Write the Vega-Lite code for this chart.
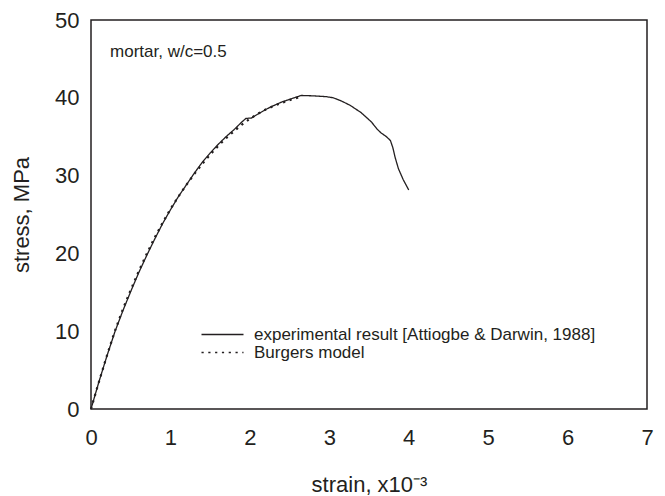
{
  "$schema": "https://vega.github.io/schema/vega-lite/v6.json",
  "width": 556,
  "height": 389,
  "autosize": {"type": "none"},
  "padding": {"left": 91, "top": 20, "right": 18, "bottom": 87},
  "background": "white",
  "datasets": {
    "curves": [
      {"series": "experimental result [Attiogbe & Darwin, 1988]", "strain": 0, "stress": 0},
      {"series": "experimental result [Attiogbe & Darwin, 1988]", "strain": 0.05, "stress": 1.75},
      {"series": "experimental result [Attiogbe & Darwin, 1988]", "strain": 0.1, "stress": 3.5},
      {"series": "experimental result [Attiogbe & Darwin, 1988]", "strain": 0.2, "stress": 6.8},
      {"series": "experimental result [Attiogbe & Darwin, 1988]", "strain": 0.3, "stress": 9.9},
      {"series": "experimental result [Attiogbe & Darwin, 1988]", "strain": 0.4, "stress": 12.6},
      {"series": "experimental result [Attiogbe & Darwin, 1988]", "strain": 0.5, "stress": 15.1},
      {"series": "experimental result [Attiogbe & Darwin, 1988]", "strain": 0.6, "stress": 17.5},
      {"series": "experimental result [Attiogbe & Darwin, 1988]", "strain": 0.7, "stress": 19.7},
      {"series": "experimental result [Attiogbe & Darwin, 1988]", "strain": 0.8, "stress": 21.8},
      {"series": "experimental result [Attiogbe & Darwin, 1988]", "strain": 0.9, "stress": 23.8},
      {"series": "experimental result [Attiogbe & Darwin, 1988]", "strain": 1.0, "stress": 25.6},
      {"series": "experimental result [Attiogbe & Darwin, 1988]", "strain": 1.1, "stress": 27.3},
      {"series": "experimental result [Attiogbe & Darwin, 1988]", "strain": 1.2, "stress": 28.8},
      {"series": "experimental result [Attiogbe & Darwin, 1988]", "strain": 1.3, "stress": 30.3},
      {"series": "experimental result [Attiogbe & Darwin, 1988]", "strain": 1.4, "stress": 31.7},
      {"series": "experimental result [Attiogbe & Darwin, 1988]", "strain": 1.5, "stress": 32.9},
      {"series": "experimental result [Attiogbe & Darwin, 1988]", "strain": 1.6, "stress": 34.0},
      {"series": "experimental result [Attiogbe & Darwin, 1988]", "strain": 1.7, "stress": 35.0},
      {"series": "experimental result [Attiogbe & Darwin, 1988]", "strain": 1.8, "stress": 35.9},
      {"series": "experimental result [Attiogbe & Darwin, 1988]", "strain": 1.9, "stress": 36.9},
      {"series": "experimental result [Attiogbe & Darwin, 1988]", "strain": 1.95, "stress": 37.35},
      {"series": "experimental result [Attiogbe & Darwin, 1988]", "strain": 2.02, "stress": 37.4},
      {"series": "experimental result [Attiogbe & Darwin, 1988]", "strain": 2.1, "stress": 37.9},
      {"series": "experimental result [Attiogbe & Darwin, 1988]", "strain": 2.2, "stress": 38.5},
      {"series": "experimental result [Attiogbe & Darwin, 1988]", "strain": 2.3, "stress": 39.0},
      {"series": "experimental result [Attiogbe & Darwin, 1988]", "strain": 2.4, "stress": 39.45},
      {"series": "experimental result [Attiogbe & Darwin, 1988]", "strain": 2.5, "stress": 39.8},
      {"series": "experimental result [Attiogbe & Darwin, 1988]", "strain": 2.6, "stress": 40.15},
      {"series": "experimental result [Attiogbe & Darwin, 1988]", "strain": 2.65, "stress": 40.3},
      {"series": "experimental result [Attiogbe & Darwin, 1988]", "strain": 2.8, "stress": 40.25},
      {"series": "experimental result [Attiogbe & Darwin, 1988]", "strain": 2.96, "stress": 40.15},
      {"series": "experimental result [Attiogbe & Darwin, 1988]", "strain": 3.05, "stress": 40.0},
      {"series": "experimental result [Attiogbe & Darwin, 1988]", "strain": 3.15, "stress": 39.6},
      {"series": "experimental result [Attiogbe & Darwin, 1988]", "strain": 3.26, "stress": 39.05},
      {"series": "experimental result [Attiogbe & Darwin, 1988]", "strain": 3.4, "stress": 38.1},
      {"series": "experimental result [Attiogbe & Darwin, 1988]", "strain": 3.53, "stress": 36.9},
      {"series": "experimental result [Attiogbe & Darwin, 1988]", "strain": 3.6, "stress": 36.0},
      {"series": "experimental result [Attiogbe & Darwin, 1988]", "strain": 3.65, "stress": 35.5},
      {"series": "experimental result [Attiogbe & Darwin, 1988]", "strain": 3.72, "stress": 35.0},
      {"series": "experimental result [Attiogbe & Darwin, 1988]", "strain": 3.77, "stress": 34.5},
      {"series": "experimental result [Attiogbe & Darwin, 1988]", "strain": 3.8, "stress": 33.6},
      {"series": "experimental result [Attiogbe & Darwin, 1988]", "strain": 3.83, "stress": 32.3},
      {"series": "experimental result [Attiogbe & Darwin, 1988]", "strain": 3.87, "stress": 30.9},
      {"series": "experimental result [Attiogbe & Darwin, 1988]", "strain": 3.93, "stress": 29.5},
      {"series": "experimental result [Attiogbe & Darwin, 1988]", "strain": 4.0, "stress": 28.15},
      {"series": "Burgers model", "strain": 0, "stress": 0},
      {"series": "Burgers model", "strain": 0.05, "stress": 1.75},
      {"series": "Burgers model", "strain": 0.1, "stress": 3.5},
      {"series": "Burgers model", "strain": 0.2, "stress": 6.85},
      {"series": "Burgers model", "strain": 0.3, "stress": 10.0},
      {"series": "Burgers model", "strain": 0.4, "stress": 12.8},
      {"series": "Burgers model", "strain": 0.5, "stress": 15.3},
      {"series": "Burgers model", "strain": 0.6, "stress": 17.7},
      {"series": "Burgers model", "strain": 0.7, "stress": 19.9},
      {"series": "Burgers model", "strain": 0.8, "stress": 22.0},
      {"series": "Burgers model", "strain": 0.9, "stress": 23.9},
      {"series": "Burgers model", "strain": 1.0, "stress": 25.7},
      {"series": "Burgers model", "strain": 1.1, "stress": 27.3},
      {"series": "Burgers model", "strain": 1.2, "stress": 28.8},
      {"series": "Burgers model", "strain": 1.3, "stress": 30.2},
      {"series": "Burgers model", "strain": 1.4, "stress": 31.5},
      {"series": "Burgers model", "strain": 1.5, "stress": 32.7},
      {"series": "Burgers model", "strain": 1.6, "stress": 33.8},
      {"series": "Burgers model", "strain": 1.7, "stress": 34.8},
      {"series": "Burgers model", "strain": 1.8, "stress": 35.7},
      {"series": "Burgers model", "strain": 1.9, "stress": 36.55},
      {"series": "Burgers model", "strain": 2.0, "stress": 37.3},
      {"series": "Burgers model", "strain": 2.1, "stress": 37.95},
      {"series": "Burgers model", "strain": 2.2, "stress": 38.5},
      {"series": "Burgers model", "strain": 2.3, "stress": 38.95},
      {"series": "Burgers model", "strain": 2.4, "stress": 39.35},
      {"series": "Burgers model", "strain": 2.5, "stress": 39.7},
      {"series": "Burgers model", "strain": 2.6, "stress": 40.0},
      {"series": "Burgers model", "strain": 2.66, "stress": 40.15}
    ],
    "notes": [
      {"strain": 0.24, "stress": 45.2, "text": "mortar, w/c=0.5"}
    ],
    "ticks": [
      {"side": "bottom", "kind": "major", "value": 1},
      {"side": "bottom", "kind": "major", "value": 2},
      {"side": "bottom", "kind": "major", "value": 3},
      {"side": "bottom", "kind": "major", "value": 4},
      {"side": "bottom", "kind": "major", "value": 5},
      {"side": "bottom", "kind": "major", "value": 6},
      {"side": "bottom", "kind": "minor", "value": 0.5},
      {"side": "bottom", "kind": "minor", "value": 1.5},
      {"side": "bottom", "kind": "minor", "value": 2.5},
      {"side": "bottom", "kind": "minor", "value": 3.5},
      {"side": "bottom", "kind": "minor", "value": 4.5},
      {"side": "bottom", "kind": "minor", "value": 5.5},
      {"side": "bottom", "kind": "minor", "value": 6.5},
      {"side": "left", "kind": "major", "value": 10},
      {"side": "left", "kind": "major", "value": 20},
      {"side": "left", "kind": "major", "value": 30},
      {"side": "left", "kind": "major", "value": 40},
      {"side": "left", "kind": "minor", "value": 5},
      {"side": "left", "kind": "minor", "value": 15},
      {"side": "left", "kind": "minor", "value": 25},
      {"side": "left", "kind": "minor", "value": 35},
      {"side": "left", "kind": "minor", "value": 45},
      {"side": "right", "kind": "minor", "value": 5},
      {"side": "right", "kind": "minor", "value": 10},
      {"side": "right", "kind": "minor", "value": 15},
      {"side": "right", "kind": "minor", "value": 20},
      {"side": "right", "kind": "minor", "value": 25},
      {"side": "right", "kind": "minor", "value": 30},
      {"side": "right", "kind": "minor", "value": 35},
      {"side": "right", "kind": "minor", "value": 40},
      {"side": "right", "kind": "minor", "value": 45}
    ]
  },
  "config": {
    "font": "Liberation Sans",
    "view": {"stroke": "#231f20", "strokeWidth": 1.5},
    "axis": {
      "ticks": false,
      "domain": false,
      "grid": false,
      "labelColor": "#231f20",
      "titleColor": "#231f20",
      "labelFont": "Liberation Sans",
      "titleFont": "Liberation Sans",
      "labelFontSize": 22,
      "titleFontSize": 22,
      "titleFontWeight": "normal",
      "labelFlush": false,
      "labelOverlap": false
    },
    "legend": {
      "labelFont": "Liberation Sans",
      "labelFontSize": 17,
      "labelColor": "#231f20",
      "labelLimit": 0
    },
    "tick": {"color": "#231f20", "thickness": 1.5, "opacity": 1}
  },
  "encoding": {
    "x": {
      "field": "strain",
      "type": "quantitative",
      "scale": {"domain": [0, 7], "nice": false},
      "axis": {
        "values": [0, 1, 2, 3, 4, 5, 6, 7],
        "format": "d",
        "labelPadding": 18,
        "title": "strain, x10⁻³",
        "titlePadding": 26
      }
    },
    "y": {
      "field": "stress",
      "type": "quantitative",
      "scale": {"domain": [0, 50], "nice": false},
      "axis": {
        "values": [0, 10, 20, 30, 40, 50],
        "labelPadding": 12,
        "title": "stress, MPa",
        "titlePadding": 21
      }
    }
  },
  "layer": [
    {
      "data": {"name": "curves"},
      "transform": [{"filter": "datum.series !== 'Burgers model'"}],
      "mark": {"type": "line", "color": "#231f20", "strokeWidth": 1.3},
      "encoding": {
        "strokeDash": {
          "field": "series",
          "type": "nominal",
          "scale": {
            "domain": ["experimental result [Attiogbe & Darwin, 1988]", "Burgers model"],
            "range": [[1, 0], [2.2, 4.6]]
          },
          "legend": {
            "title": null,
            "orient": "none",
            "legendX": 137,
            "legendY": 306,
            "symbolType": "M-5,0H1",
            "symbolSize": 196,
            "symbolStrokeColor": "#231f20",
            "symbolStrokeWidth": 1.6,
            "symbolFillColor": "transparent",
            "labelOffset": 9,
            "rowPadding": 0
          }
        }
      }
    },
    {
      "data": {"name": "curves"},
      "transform": [{"filter": "datum.series === 'Burgers model'"}],
      "mark": {"type": "line", "color": "#231f20", "strokeWidth": 2.2},
      "encoding": {
        "strokeDash": {
          "field": "series",
          "type": "nominal",
          "scale": {
            "domain": ["experimental result [Attiogbe & Darwin, 1988]", "Burgers model"],
            "range": [[1, 0], [2.2, 4.6]]
          }
        }
      }
    },
    {
      "data": {"name": "notes"},
      "mark": {"type": "text", "align": "left", "baseline": "alphabetic", "fontSize": 17, "color": "#231f20", "font": "Liberation Sans"},
      "encoding": {
        "text": {"field": "text"}
      }
    },
    {
      "data": {"name": "ticks"},
      "transform": [{"filter": "datum.side === 'bottom' && datum.kind === 'major'"}],
      "mark": {"type": "tick", "orient": "vertical", "size": 7, "yOffset": -3.5},
      "encoding": {
        "x": {"field": "value", "type": "quantitative"},
        "y": {"datum": 0, "type": "quantitative"}
      }
    },
    {
      "data": {"name": "ticks"},
      "transform": [{"filter": "datum.side === 'bottom' && datum.kind === 'minor'"}],
      "mark": {"type": "tick", "orient": "vertical", "size": 4, "yOffset": -2},
      "encoding": {
        "x": {"field": "value", "type": "quantitative"},
        "y": {"datum": 0, "type": "quantitative"}
      }
    },
    {
      "data": {"name": "ticks"},
      "transform": [{"filter": "datum.side === 'left' && datum.kind === 'major'"}],
      "mark": {"type": "tick", "orient": "horizontal", "size": 7, "xOffset": 3.5},
      "encoding": {
        "y": {"field": "value", "type": "quantitative"},
        "x": {"datum": 0, "type": "quantitative"}
      }
    },
    {
      "data": {"name": "ticks"},
      "transform": [{"filter": "datum.side === 'left' && datum.kind === 'minor'"}],
      "mark": {"type": "tick", "orient": "horizontal", "size": 4, "xOffset": 2},
      "encoding": {
        "y": {"field": "value", "type": "quantitative"},
        "x": {"datum": 0, "type": "quantitative"}
      }
    },
    {
      "data": {"name": "ticks"},
      "transform": [{"filter": "datum.side === 'right'"}],
      "mark": {"type": "tick", "orient": "horizontal", "size": 5, "xOffset": -2.5},
      "encoding": {
        "y": {"field": "value", "type": "quantitative"},
        "x": {"datum": 7, "type": "quantitative"}
      }
    }
  ]
}
